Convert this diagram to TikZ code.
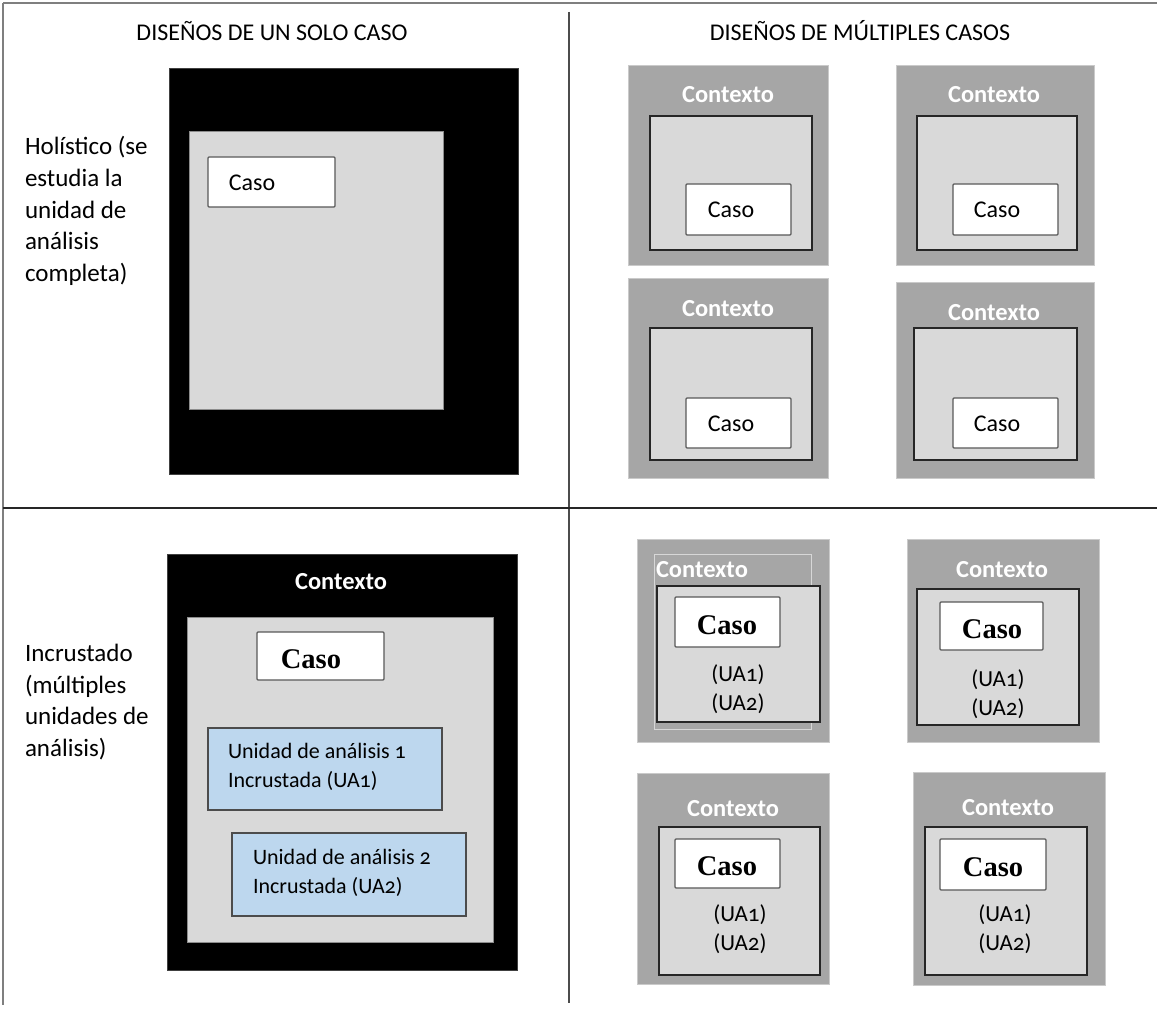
\documentclass[tikz,border=0pt]{standalone}
\usepackage{fontspec}
\setmainfont{Carlito}[Numbers=OldStyle]
\newfontfamily\serifbold{Liberation Serif}
\definecolor{ctxgray}{HTML}{A6A6A6}
\definecolor{lightg}{HTML}{D9D9D9}
\definecolor{bluebox}{HTML}{BDD7EE}
\definecolor{frameline}{HTML}{7F7F7F}
\newcommand\rbox[6]{\node[#6, anchor=north west, minimum width={(#4-#2)*1pt}, minimum height={(#5-#3)*1pt}] (#1) at (#2,#3) {};}
\begin{document}
\begin{tikzpicture}[x=1pt,y=-1pt,
  every node/.style={inner sep=0pt, outer sep=0pt},
  blackbox/.style={fill=black, draw=black!75, line width=0.8pt},
  ctxbox/.style={fill=ctxgray, draw=ctxgray!60!white, line width=0.8pt},
  innerbox/.style={fill=lightg, draw=black!85, line width=1.3pt},
  innerplain/.style={fill=lightg, draw=black!45, line width=0.8pt},
  faintbox/.style={draw=ctxgray!45!white, line width=0.7pt},
  casobox/.style={fill=white, draw=black!65, line width=1.3pt, rounded corners=1pt},
  bluebx/.style={fill=bluebox, draw=black!70, line width=1.3pt},
  ctxlabel/.style={text=white, font=\bfseries\fontsize{24.5}{28}\selectfont},
  headfont/.style={font=\fontsize{24}{28}\selectfont},
  sanslabel/.style={font=\fontsize{25}{31.7}\selectfont, align=left},
  casolabel/.style={font=\fontsize{24}{28}\selectfont},
  serifcaso/.style={font=\serifbold\bfseries\fontsize{28.5}{30}\selectfont},
  unitlabel/.style={font=\fontsize{22}{28.5}\selectfont, align=left},
  ualabel/.style={font=\fontsize{23}{28.5}\selectfont, align=center}
]
\useasboundingbox (0,0) rectangle (1157,1011);
% frame
\coordinate (ftl) at (3,3);
\coordinate (ftr) at (1157,3);
\coordinate (fbl) at (3,1005);
\coordinate (vt) at (569,12);
\coordinate (vb) at (569,1003);
\coordinate (hl) at (3,508);
\coordinate (hr) at (1157,508);
\draw[frameline, line width=1.3pt] (ftl) -- (ftr);
\draw[frameline, line width=1.3pt] (ftl) -- (fbl);
\draw[black!70, line width=1.3pt] (vt) -- (vb);
\draw[black!85, line width=2.6pt] (hl) -- (hr);

% headings
\node[headfont] (h1) at (272,31) {DISEÑOS DE UN SOLO CASO};
\node[headfont] (h2) at (860,31) {DISEÑOS DE MÚLTIPLES CASOS};

% holistic single case
\node[sanslabel, anchor=west] (hlab) at (25,211) {Holístico (se\\estudia la\\unidad de\\análisis\\completa)};
\rbox{hblk}{169}{68}{518}{474}{blackbox}
\rbox{hgray}{189}{131}{443}{409}{innerplain}
\rbox{hcaso}{208}{157}{335}{207}{casobox}
\node[casolabel] (hcasot) at (252,183) {Caso};

% holistic multiple cases
\rbox{c1}{628}{65}{828}{265}{ctxbox}
\node[ctxlabel] (c1t) at (728,95) {Contexto};
\rbox{c1i}{650}{116}{812}{250}{innerbox}
\rbox{c1c}{686}{184}{791}{235}{casobox}
\node[casolabel] (c1ct) at (731,210) {Caso};

\rbox{c2}{896}{65}{1094}{265}{ctxbox}
\node[ctxlabel] (c2t) at (994,95) {Contexto};
\rbox{c2i}{917}{116}{1077}{250}{innerbox}
\rbox{c2c}{953}{184}{1058}{235}{casobox}
\node[casolabel] (c2ct) at (997,210) {Caso};

\rbox{c3}{628}{278}{828}{478}{ctxbox}
\node[ctxlabel] (c3t) at (728,309) {Contexto};
\rbox{c3i}{650}{328}{812}{460}{innerbox}
\rbox{c3c}{686}{398}{791}{448}{casobox}
\node[casolabel] (c3ct) at (731,424) {Caso};

\rbox{c4}{896}{282}{1094}{478}{ctxbox}
\node[ctxlabel] (c4t) at (994,313) {Contexto};
\rbox{c4i}{914}{328}{1077}{460}{innerbox}
\rbox{c4c}{953}{398}{1058}{448}{casobox}
\node[casolabel] (c4ct) at (997,424) {Caso};

% embedded single case
\node[sanslabel, anchor=west] (elab) at (25,702) {Incrustado\\(múltiples\\unidades de\\análisis)};
\rbox{eblk}{167}{554}{517}{970}{blackbox}
\node[ctxlabel] (eblkt) at (341,582) {Contexto};
\rbox{egray}{187}{617}{493}{942}{innerplain}
\rbox{ecaso}{257}{632}{384}{680}{casobox}
\node[serifcaso] (ecasot) at (311,659) {Caso};
\rbox{eu1}{208}{728}{442}{810}{bluebx}
\node[unitlabel, anchor=west] (eu1t) at (228,767) {Unidad de análisis 1\\Incrustada (UA1)};
\rbox{eu2}{232}{833}{466}{916}{bluebx}
\node[unitlabel, anchor=west] (eu2t) at (253,873) {Unidad de análisis 2\\Incrustada (UA2)};

% embedded multiple cases
\rbox{m1}{637}{539}{829}{742}{ctxbox}
\rbox{m1f}{654}{554}{811}{729}{faintbox}
\node[ctxlabel, anchor=west] (m1t) at (656,570) {Contexto};
\rbox{m1i}{657}{586}{820}{722}{innerbox}
\rbox{m1c}{675}{597}{780}{647}{casobox}
\node[serifcaso] (m1ct) at (727,625) {Caso};
\node[ualabel] (m1u) at (738,689) {(UA1)\\(UA2)};

\rbox{m2}{907}{539}{1099}{742}{ctxbox}
\node[ctxlabel] (m2t) at (1002,570) {Contexto};
\rbox{m2i}{917}{589}{1079}{725}{innerbox}
\rbox{m2c}{940}{602}{1043}{650}{casobox}
\node[serifcaso] (m2ct) at (992,629) {Caso};
\node[ualabel] (m2u) at (998,694) {(UA1)\\(UA2)};

\rbox{m3}{637}{773}{829}{984}{ctxbox}
\node[ctxlabel] (m3t) at (733,809) {Contexto};
\rbox{m3i}{659}{827}{820}{975}{innerbox}
\rbox{m3c}{675}{839}{780}{888}{casobox}
\node[serifcaso] (m3ct) at (727,866) {Caso};
\node[ualabel] (m3u) at (740,929) {(UA1)\\(UA2)};

\rbox{m4}{913}{772}{1105}{985}{ctxbox}
\node[ctxlabel] (m4t) at (1008,808) {Contexto};
\rbox{m4i}{925}{827}{1087}{975}{innerbox}
\rbox{m4c}{940}{839}{1046}{890}{casobox}
\node[serifcaso] (m4ct) at (993,867) {Caso};
\node[ualabel] (m4u) at (1005,929) {(UA1)\\(UA2)};
\end{tikzpicture}
\end{document}
